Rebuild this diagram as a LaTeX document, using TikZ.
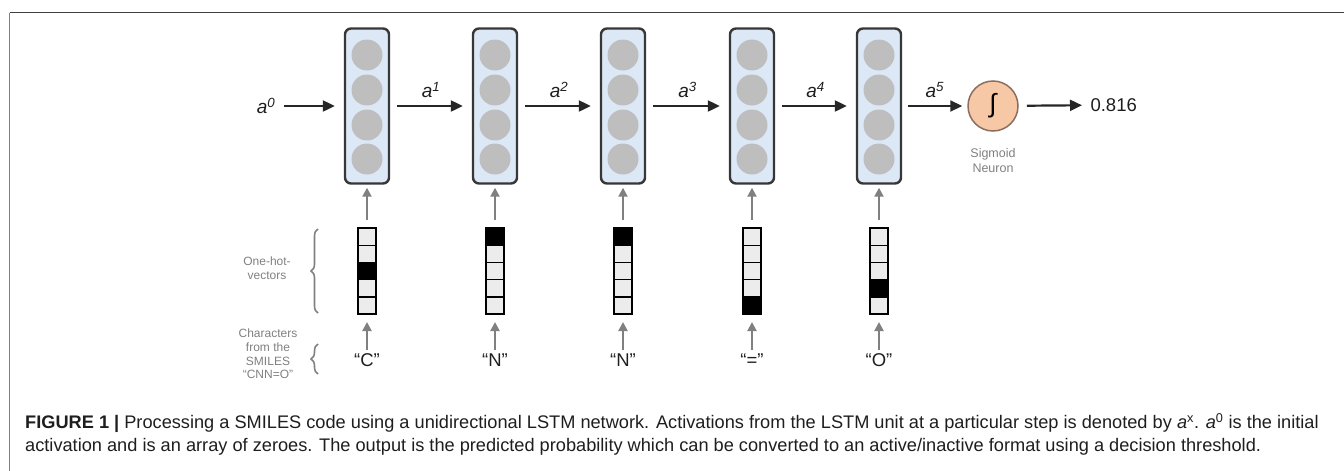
\documentclass[tikz,border=0pt]{standalone}
\usepackage{fontspec}
\setmainfont{Liberation Sans}
\usetikzlibrary{positioning,arrows.meta,calc,decorations.pathreplacing}
\definecolor{unitc}{RGB}{220,232,246}
\definecolor{edgec}{RGB}{55,55,55}
\definecolor{neuronc}{RGB}{190,190,190}
\definecolor{sigc}{RGB}{246,200,166}
\definecolor{sigdc}{RGB}{140,110,95}
\definecolor{greyc}{RGB}{128,128,128}
\definecolor{offc}{RGB}{236,236,236}
\definecolor{textc}{RGB}{30,30,30}
\tikzset{
  unit/.style    = {draw=edgec, line width=2.4pt, fill=unitc, rounded corners=6pt,
                    minimum width=44pt, minimum height=155pt, inner sep=0pt},
  neuron/.style  = {circle, fill=neuronc, minimum size=31pt, inner sep=0pt},
  hotvec/.style  = {draw=black, line width=2pt, minimum width=18pt, minimum height=86pt,
                    inner sep=0pt},
  sigmoid/.style = {circle, draw=sigdc, line width=1.5pt, fill=sigc, minimum size=50pt,
                    inner sep=0pt},
  flow/.style    = {-{Triangle[length=12pt,width=11pt]}, line width=2.2pt, draw=black!85},
  feed/.style    = {-{Triangle[length=9pt,width=9pt]}, line width=2pt, draw=greyc},
  act/.style     = {font=\fontsize{19}{22}\selectfont\itshape, text=textc},
  chr/.style     = {font=\fontsize{18.5}{22}\selectfont, text=textc},
  lbl/.style     = {font=\fontsize{12}{13.8}\selectfont, text=greyc, align=center},
  brc/.style     = {decorate, decoration={brace, amplitude=7pt}, line width=1.6pt, draw=greyc},
}

\begin{document}
\begin{tikzpicture}[x=1pt, y=-1pt]
\useasboundingbox (0,0) rectangle (1344,471);

% frame of the figure
\draw[line width=1.5pt, draw=black!75] (9.5,12.5) -- (1344,12.5);
\draw[line width=1.5pt, draw=black!50] (9.5,12.5) -- (9.5,471);

% LSTM units, one-hot vectors and characters
\foreach \i/\x/\hot/\ch in {1/367/3/C, 2/495/1/N, 3/623/1/N, 4/752/5/{=}, 5/879/4/O}{
  \node[unit] (lstm\i) at (\x,106) {};
  \foreach \y in {55,90,125,159}
    \node[neuron] at (\x,\y) {};
  \foreach \c in {1,...,5}{
    \ifnum\c=\hot \def\cellc{black}\else\def\cellc{offc}\fi
    \draw[fill=\cellc, draw=black, line width=1.4pt]
      (\x-9,{228+(\c-1)*17.2}) rectangle ++(18,17.2);
  }
  \node[hotvec] (vec\i) at (\x,271) {};
  \node[chr] (ch\i) at (\x,360) {“\ch”};
  \draw[feed, shorten <=7pt, shorten >=3pt] (vec\i) -- (lstm\i);
  \draw[feed, shorten <=0pt, shorten >=7pt] (ch\i) -- (vec\i);
}

% recurrent activations
\node[act] (a0) at (266,106) {a\textsuperscript{0}};
\node[sigmoid, font=\fontsize{26}{26}\selectfont] (sig) at (993,106) {∫};
\node[lbl, font=\fontsize{12.5}{15}\selectfont, below=13pt of sig] (siglbl) {Sigmoid\\Neuron};
\node[chr, anchor=west] (out) at (1087,105) {0.816};

\draw[flow, shorten <=5pt, shorten >=9pt] (a0) -- (lstm1);
\draw[flow, shorten <=7pt, shorten >=9pt] (lstm1) -- node[act, above=4pt] {a\textsuperscript{1}} (lstm2);
\draw[flow, shorten <=7pt, shorten >=9pt] (lstm2) -- node[act, above=4pt] {a\textsuperscript{2}} (lstm3);
\draw[flow, shorten <=7pt, shorten >=9pt] (lstm3) -- node[act, above=4pt] {a\textsuperscript{3}} (lstm4);
\draw[flow, shorten <=7pt, shorten >=9pt] (lstm4) -- node[act, above=4pt] {a\textsuperscript{4}} (lstm5);
\draw[flow, shorten <=6pt, shorten >=5pt] (lstm5) -- node[act, above=4pt] {a\textsuperscript{5}} (sig);
\draw[flow, shorten <=8pt, shorten >=5pt] (sig) -- (out);

% row labels
\node[lbl] (ohlbl) at (267,268) {One-hot-\\vectors};
\node[lbl] (chlbl) at (268,354) {Characters\\from the\\SMILES\\“CNN=O”};
\draw[brc] (318,313) -- (318,229);
\draw[brc] (318,374) -- (318,344);

% caption
\node[anchor=base west, align=left, inner sep=0pt, text=textc,
      font=\fontsize{18.2}{22.5}\selectfont] (cap) at (25,451)
  {\textbf{FIGURE 1 |} Processing a SMILES code using a unidirectional LSTM network. Activations from the LSTM unit at a particular step is denoted by \textit{a}\textsuperscript{x}. \textit{a}\textsuperscript{0} is the initial\\
   activation and is an array of zeroes. The output is the predicted probability which can be converted to an active/inactive format using a decision threshold.};

\end{tikzpicture}
\end{document}
